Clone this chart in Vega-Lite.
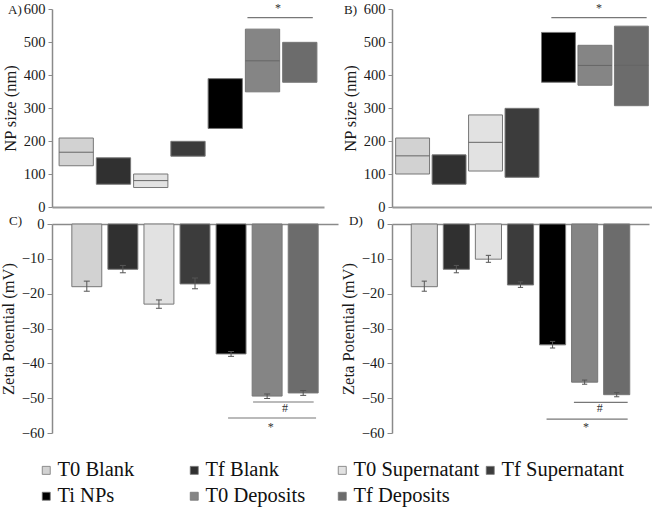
{
  "$schema": "https://vega.github.io/schema/vega-lite/v6.json",
  "padding": {"left": 0, "top": 1, "right": 0, "bottom": 0},
  "background": "white",
  "bounds": "flush",
  "columns": 2,
  "spacing": {"row": 17, "column": 54},
  "config": {
    "font": "Times New Roman, Liberation Serif, serif",
    "view": {"stroke": null},
    "axis": {
      "labelFont": "Times New Roman, Liberation Serif, serif", "titleFont": "Times New Roman, Liberation Serif, serif",
      "labelFontSize": 14.5, "titleFontSize": 16.5, "titleFontWeight": "normal",
      "labelColor": "#1a1a1a", "titleColor": "#1a1a1a", "labelOverlap": false,
      "domainColor": "#8a8a8a", "tickColor": "#8a8a8a", "domainWidth": 1.5,
      "grid": false, "tickSize": 4, "labelPadding": 3
    },
    "title": {"font": "Times New Roman, Liberation Serif, serif", "fontSize": 13, "fontWeight": "normal", "color": "#1a1a1a", "anchor": "start", "frame": "group", "baseline": "middle", "offset": 0}
  },
  "datasets": {
    "size": [
      {"panel": "A", "group": "T0 Blank", "lo": 125, "hi": 209, "mid": 166},
      {"panel": "A", "group": "Tf Blank", "lo": 69, "hi": 149, "mid": null},
      {"panel": "A", "group": "T0 Supernatant", "lo": 59, "hi": 100, "mid": 80},
      {"panel": "A", "group": "Tf Supernatant", "lo": 154, "hi": 199, "mid": null},
      {"panel": "A", "group": "Ti NPs", "lo": 238, "hi": 389, "mid": null},
      {"panel": "A", "group": "T0 Deposits", "lo": 349, "hi": 539, "mid": 443},
      {"panel": "A", "group": "Tf Deposits", "lo": 378, "hi": 499, "mid": null},
      {"panel": "B", "group": "T0 Blank", "lo": 100, "hi": 209, "mid": 155},
      {"panel": "B", "group": "Tf Blank", "lo": 69, "hi": 158, "mid": null},
      {"panel": "B", "group": "T0 Supernatant", "lo": 109, "hi": 279, "mid": 196},
      {"panel": "B", "group": "Tf Supernatant", "lo": 90, "hi": 299, "mid": null},
      {"panel": "B", "group": "Ti NPs", "lo": 378, "hi": 529, "mid": null},
      {"panel": "B", "group": "T0 Deposits", "lo": 369, "hi": 490, "mid": 429},
      {"panel": "B", "group": "Tf Deposits", "lo": 307, "hi": 548, "mid": 429}
    ],
    "zeta": [
      {"panel": "C", "group": "T0 Blank", "value": -18.0, "lo": -19.3, "hi": -16.4},
      {"panel": "C", "group": "Tf Blank", "value": -13.0, "lo": -14.0, "hi": -11.9},
      {"panel": "C", "group": "T0 Supernatant", "value": -23.0, "lo": -24.2, "hi": -21.8},
      {"panel": "C", "group": "Tf Supernatant", "value": -17.2, "lo": -18.6, "hi": -15.5},
      {"panel": "C", "group": "Ti NPs", "value": -37.3, "lo": -38.0, "hi": -36.6},
      {"panel": "C", "group": "T0 Deposits", "value": -49.4, "lo": -50.1, "hi": -48.8},
      {"panel": "C", "group": "Tf Deposits", "value": -48.5, "lo": -49.2, "hi": -47.8},
      {"panel": "D", "group": "T0 Blank", "value": -18.0, "lo": -19.3, "hi": -16.4},
      {"panel": "D", "group": "Tf Blank", "value": -13.0, "lo": -14.0, "hi": -11.9},
      {"panel": "D", "group": "T0 Supernatant", "value": -10.1, "lo": -11.0, "hi": -9.0},
      {"panel": "D", "group": "Tf Supernatant", "value": -17.5, "lo": -18.2, "hi": -16.6},
      {"panel": "D", "group": "Ti NPs", "value": -34.7, "lo": -35.6, "hi": -33.7},
      {"panel": "D", "group": "T0 Deposits", "value": -45.4, "lo": -46.0, "hi": -44.8},
      {"panel": "D", "group": "Tf Deposits", "value": -49.0, "lo": -49.6, "hi": -48.4}
    ],
    "lines": [
      {"panel": "A", "kind": "star", "x1": "T0 Deposits", "x2": "Tf Deposits", "y": 574},
      {"panel": "B", "kind": "star", "x1": "Ti NPs", "x2": "Tf Deposits", "y": 574},
      {"panel": "C", "kind": "hash", "x1": "T0 Deposits", "x2": "Tf Deposits", "y": -51.1},
      {"panel": "C", "kind": "star", "x1": "Ti NPs", "x2": "Tf Deposits", "y": -55.7},
      {"panel": "D", "kind": "hash", "x1": "T0 Deposits", "x2": "Tf Deposits", "y": -51.2},
      {"panel": "D", "kind": "star", "x1": "Ti NPs", "x2": "Tf Deposits", "y": -56.0}
    ],
    "marks": [
      {"panel": "A", "kind": "star", "x": "T0 Deposits", "label": "*", "y": 592},
      {"panel": "B", "kind": "star", "x": "T0 Deposits", "label": "*", "y": 592},
      {"panel": "C", "kind": "hash", "x": "T0 Deposits", "label": "#", "y": -52.8},
      {"panel": "C", "kind": "star", "x": "T0 Deposits", "label": "*", "y": -59.4},
      {"panel": "D", "kind": "hash", "x": "T0 Deposits", "label": "#", "y": -52.8},
      {"panel": "D", "kind": "star", "x": "T0 Deposits", "label": "*", "y": -59.4}
    ]
  },
  "concat": [
    {
      "width": 272, "height": 198,
      "title": {"text": "A)", "dx": -44, "dy": 20},
      "layer": [
        {
          "data": {"name": "size"},
          "transform": [{"filter": "datum.panel == 'A'"}],
          "mark": {"type": "bar", "stroke": "#777", "strokeWidth": 1},
          "encoding": {
            "x": {"field": "group", "type": "nominal", "sort": null,
              "scale": {"domain": ["T0 Blank","Tf Blank","T0 Supernatant","Tf Supernatant","Ti NPs","T0 Deposits","Tf Deposits"], "paddingInner": 0.08, "paddingOuter": 0.19},
              "axis": {"orient": "bottom", "labels": false, "ticks": false, "title": null, "domainWidth": 2, "domainColor": "#999"}},
            "y": {"field": "lo", "type": "quantitative", "scale": {"domain": [0, 600], "nice": false},
              "axis": {"values": [0,100,200,300,400,500,600], "tickCount": 7, "labelOverlap": false, "title": "NP size (nm)", "titlePadding": 5}},
            "y2": {"field": "hi"},
            "color": {"field": "group", "type": "nominal",
              "scale": {"domain": ["T0 Blank","Tf Blank","T0 Supernatant","Tf Supernatant","Ti NPs","T0 Deposits","Tf Deposits"], "range": ["#d2d2d2","#303030","#e2e2e2","#3c3c3c","#000000","#858585","#6c6c6c"]},
              "legend": {"orient": "none", "legendX": -16, "legendY": 451, "direction": "horizontal", "columns": 4, "gridAlign": "all", "title": null, "symbolType": "square", "symbolSize": 64, "symbolStrokeColor": "#555", "symbolStrokeWidth": 0.8, "symbolOpacity": 1, "labelFont": "Times New Roman, Liberation Serif, serif", "labelFontSize": 20.5, "labelColor": "#111", "labelOffset": 1, "columnPadding": -7, "rowPadding": 5, "labelLimit": 300, "padding": 0}}
          }
        },
        {
          "data": {"name": "size"},
          "transform": [{"filter": "datum.panel == 'A' && datum.mid != null"}],
          "mark": {"type": "rule", "color": "#666", "strokeWidth": 1},
          "encoding": {
            "x": {"field": "group", "type": "nominal", "bandPosition": 0},
            "x2": {"field": "group", "bandPosition": 1},
            "y": {"field": "mid", "type": "quantitative"}
          }
        },
        {
          "data": {"name": "lines"},
          "transform": [{"filter": "datum.panel == 'A'"}],
          "mark": {"type": "rule", "color": "#777", "strokeWidth": 1.2},
          "encoding": {
            "x": {"field": "x1", "type": "nominal", "bandPosition": 0.06},
            "x2": {"field": "x2", "bandPosition": 0.88},
            "y": {"field": "y", "type": "quantitative"}
          }
        },
        {
          "data": {"name": "marks"},
          "transform": [{"filter": "datum.panel == 'A'"}],
          "mark": {"type": "text", "font": "Times New Roman, Liberation Serif, serif", "fontSize": 12, "fill": "#333", "baseline": "alphabetic"},
          "encoding": {
            "x": {"field": "x", "type": "nominal", "bandPosition": 0.95},
            "y": {"field": "y", "type": "quantitative"},
            "text": {"field": "label"}
          }
        }
      ]
    },
    {
      "width": 260, "height": 198,
      "title": {"text": "B)", "dx": -48, "dy": 20},
      "layer": [
        {
          "data": {"name": "size"},
          "transform": [{"filter": "datum.panel == 'B'"}],
          "mark": {"type": "bar", "stroke": "#777", "strokeWidth": 1},
          "encoding": {
            "x": {"field": "group", "type": "nominal", "sort": null,
              "scale": {"domain": ["T0 Blank","Tf Blank","T0 Supernatant","Tf Supernatant","Ti NPs","T0 Deposits","Tf Deposits"], "paddingInner": 0.07, "paddingOuter": 0.1},
              "axis": {"orient": "bottom", "labels": false, "ticks": false, "title": null, "domainWidth": 2, "domainColor": "#999"}},
            "y": {"field": "lo", "type": "quantitative", "scale": {"domain": [0, 600], "nice": false},
              "axis": {"values": [0,100,200,300,400,500,600], "tickCount": 7, "labelOverlap": false, "title": "NP size (nm)", "titlePadding": 5}},
            "y2": {"field": "hi"},
            "color": {"field": "group", "type": "nominal"}
          }
        },
        {
          "data": {"name": "size"},
          "transform": [{"filter": "datum.panel == 'B' && datum.mid != null"}],
          "mark": {"type": "rule", "color": "#666", "strokeWidth": 1},
          "encoding": {
            "x": {"field": "group", "type": "nominal", "bandPosition": 0},
            "x2": {"field": "group", "bandPosition": 1},
            "y": {"field": "mid", "type": "quantitative"}
          }
        },
        {
          "data": {"name": "lines"},
          "transform": [{"filter": "datum.panel == 'B'"}],
          "mark": {"type": "rule", "color": "#777", "strokeWidth": 1.2},
          "encoding": {
            "x": {"field": "x1", "type": "nominal", "bandPosition": 0.29},
            "x2": {"field": "x2", "bandPosition": 0.95},
            "y": {"field": "y", "type": "quantitative"}
          }
        },
        {
          "data": {"name": "marks"},
          "transform": [{"filter": "datum.panel == 'B'"}],
          "mark": {"type": "text", "font": "Times New Roman, Liberation Serif, serif", "fontSize": 12, "fill": "#333", "baseline": "alphabetic"},
          "encoding": {
            "x": {"field": "x", "type": "nominal", "bandPosition": 0.62},
            "y": {"field": "y", "type": "quantitative"},
            "text": {"field": "label"}
          }
        }
      ]
    },
    {
      "width": 286, "height": 209,
      "title": {"text": "C)", "dx": -43, "dy": 16},
      "layer": [
        {
          "data": {"name": "zeta"},
          "transform": [{"filter": "datum.panel == 'C'"}],
          "mark": {"type": "bar", "stroke": "#777", "strokeWidth": 1},
          "encoding": {
            "x": {"field": "group", "type": "nominal", "sort": null,
              "scale": {"domain": ["T0 Blank","Tf Blank","T0 Supernatant","Tf Supernatant","Ti NPs","T0 Deposits","Tf Deposits"], "paddingInner": 0.17, "paddingOuter": 0.55},
              "axis": {"orient": "top", "labels": false, "ticks": false, "title": null}},
            "y": {"field": "value", "type": "quantitative", "scale": {"domain": [-60, 0], "nice": false},
              "axis": {"values": [0,-10,-20,-30,-40,-50,-60], "tickCount": 7, "labelOverlap": false, "title": "Zeta Potential (mV)", "tickSize": 5, "titlePadding": 5}},
            "color": {"field": "group", "type": "nominal"}
          }
        },
        {
          "data": {"name": "zeta"},
          "transform": [{"filter": "datum.panel == 'C'"}],
          "mark": {"type": "rule", "color": "#555", "strokeWidth": 1},
          "encoding": {
            "x": {"field": "group", "type": "nominal", "bandPosition": 0.5},
            "y": {"field": "lo", "type": "quantitative"},
            "y2": {"field": "hi"}
          }
        },
        {
          "data": {"name": "zeta"},
          "transform": [{"filter": "datum.panel == 'C'"}],
          "mark": {"type": "rule", "color": "#555", "strokeWidth": 1},
          "encoding": {
            "x": {"field": "group", "type": "nominal", "bandPosition": 0.4},
            "x2": {"field": "group", "bandPosition": 0.6},
            "y": {"field": "lo", "type": "quantitative"}
          }
        },
        {
          "data": {"name": "zeta"},
          "transform": [{"filter": "datum.panel == 'C'"}],
          "mark": {"type": "rule", "color": "#555", "strokeWidth": 1},
          "encoding": {
            "x": {"field": "group", "type": "nominal", "bandPosition": 0.4},
            "x2": {"field": "group", "bandPosition": 0.6},
            "y": {"field": "hi", "type": "quantitative"}
          }
        },
        {
          "data": {"name": "lines"},
          "transform": [{"filter": "datum.panel == 'C' && datum.kind == 'hash'"}],
          "mark": {"type": "rule", "color": "#777", "strokeWidth": 1.2},
          "encoding": {
            "x": {"field": "x1", "type": "nominal", "bandPosition": 0.03},
            "x2": {"field": "x2", "bandPosition": 0.85},
            "y": {"field": "y", "type": "quantitative"}
          }
        },
        {
          "data": {"name": "lines"},
          "transform": [{"filter": "datum.panel == 'C' && datum.kind == 'star'"}],
          "mark": {"type": "rule", "color": "#777", "strokeWidth": 1.2},
          "encoding": {
            "x": {"field": "x1", "type": "nominal", "bandPosition": 0.4},
            "x2": {"field": "x2", "bandPosition": 0.93},
            "y": {"field": "y", "type": "quantitative"}
          }
        },
        {
          "data": {"name": "marks"},
          "transform": [{"filter": "datum.panel == 'C' && datum.kind == 'hash'"}],
          "mark": {"type": "text", "font": "Times New Roman, Liberation Serif, serif", "fontSize": 12, "fill": "#333", "baseline": "middle", "dx": 3},
          "encoding": {
            "x": {"field": "x", "type": "nominal", "bandPosition": 1},
            "y": {"field": "y", "type": "quantitative"},
            "text": {"field": "label"}
          }
        },
        {
          "data": {"name": "marks"},
          "transform": [{"filter": "datum.panel == 'C' && datum.kind == 'star'"}],
          "mark": {"type": "text", "font": "Times New Roman, Liberation Serif, serif", "fontSize": 12, "fill": "#333", "baseline": "alphabetic"},
          "encoding": {
            "x": {"field": "x", "type": "nominal", "bandPosition": 0.62},
            "y": {"field": "y", "type": "quantitative"},
            "text": {"field": "label"}
          }
        }
      ]
    },
    {
      "width": 257, "height": 209,
      "title": {"text": "D)", "dx": -43, "dy": 16},
      "layer": [
        {
          "data": {"name": "zeta"},
          "transform": [{"filter": "datum.panel == 'D'"}],
          "mark": {"type": "bar", "stroke": "#777", "strokeWidth": 1},
          "encoding": {
            "x": {"field": "group", "type": "nominal", "sort": null,
              "scale": {"domain": ["T0 Blank","Tf Blank","T0 Supernatant","Tf Supernatant","Ti NPs","T0 Deposits","Tf Deposits"], "paddingInner": 0.185, "paddingOuter": 0.6},
              "axis": {"orient": "top", "labels": false, "ticks": false, "title": null}},
            "y": {"field": "value", "type": "quantitative", "scale": {"domain": [-60, 0], "nice": false},
              "axis": {"values": [0,-10,-20,-30,-40,-50,-60], "tickCount": 7, "labelOverlap": false, "title": "Zeta Potential (mV)", "tickSize": 5, "titlePadding": 5}},
            "color": {"field": "group", "type": "nominal"}
          }
        },
        {
          "data": {"name": "zeta"},
          "transform": [{"filter": "datum.panel == 'D'"}],
          "mark": {"type": "rule", "color": "#555", "strokeWidth": 1},
          "encoding": {
            "x": {"field": "group", "type": "nominal", "bandPosition": 0.5},
            "y": {"field": "lo", "type": "quantitative"},
            "y2": {"field": "hi"}
          }
        },
        {
          "data": {"name": "zeta"},
          "transform": [{"filter": "datum.panel == 'D'"}],
          "mark": {"type": "rule", "color": "#555", "strokeWidth": 1},
          "encoding": {
            "x": {"field": "group", "type": "nominal", "bandPosition": 0.4},
            "x2": {"field": "group", "bandPosition": 0.6},
            "y": {"field": "lo", "type": "quantitative"}
          }
        },
        {
          "data": {"name": "zeta"},
          "transform": [{"filter": "datum.panel == 'D'"}],
          "mark": {"type": "rule", "color": "#555", "strokeWidth": 1},
          "encoding": {
            "x": {"field": "group", "type": "nominal", "bandPosition": 0.4},
            "x2": {"field": "group", "bandPosition": 0.6},
            "y": {"field": "hi", "type": "quantitative"}
          }
        },
        {
          "data": {"name": "lines"},
          "transform": [{"filter": "datum.panel == 'D' && datum.kind == 'hash'"}],
          "mark": {"type": "rule", "color": "#777", "strokeWidth": 1.2},
          "encoding": {
            "x": {"field": "x1", "type": "nominal", "bandPosition": 0.09},
            "x2": {"field": "x2", "bandPosition": 0.92},
            "y": {"field": "y", "type": "quantitative"}
          }
        },
        {
          "data": {"name": "lines"},
          "transform": [{"filter": "datum.panel == 'D' && datum.kind == 'star'"}],
          "mark": {"type": "rule", "color": "#777", "strokeWidth": 1.2},
          "encoding": {
            "x": {"field": "x1", "type": "nominal", "bandPosition": 0.27},
            "x2": {"field": "x2", "bandPosition": 0.92},
            "y": {"field": "y", "type": "quantitative"}
          }
        },
        {
          "data": {"name": "marks"},
          "transform": [{"filter": "datum.panel == 'D' && datum.kind == 'hash'"}],
          "mark": {"type": "text", "font": "Times New Roman, Liberation Serif, serif", "fontSize": 12, "fill": "#333", "baseline": "middle", "dx": 2},
          "encoding": {
            "x": {"field": "x", "type": "nominal", "bandPosition": 1},
            "y": {"field": "y", "type": "quantitative"},
            "text": {"field": "label"}
          }
        },
        {
          "data": {"name": "marks"},
          "transform": [{"filter": "datum.panel == 'D' && datum.kind == 'star'"}],
          "mark": {"type": "text", "font": "Times New Roman, Liberation Serif, serif", "fontSize": 12, "fill": "#333", "baseline": "alphabetic"},
          "encoding": {
            "x": {"field": "x", "type": "nominal", "bandPosition": 0.55},
            "y": {"field": "y", "type": "quantitative"},
            "text": {"field": "label"}
          }
        }
      ]
    }
  ]
}
